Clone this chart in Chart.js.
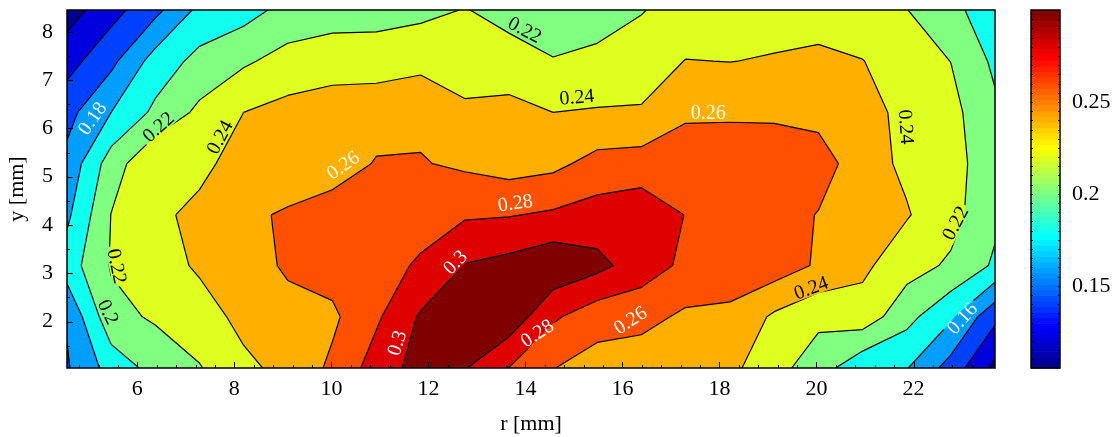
<!DOCTYPE html>
<html>
<head>
<meta charset="utf-8">
<script src="https://cdn.jsdelivr.net/npm/chart.js@4.4.1/dist/chart.umd.min.js"></script>
<style>
  html, body { margin:0; padding:0; background:#fff; }
</style>
</head>
<body>
<canvas id="map" width="1117" height="437"></canvas>
<script>
/* ── Data: measured field on a regular r–y grid ─────────────────── */
const rGrid = [4.55, 5.46, 6.37, 7.28, 8.19, 9.10, 10.02, 10.93, 11.84, 12.75, 13.66,
               14.57, 15.48, 16.39, 17.30, 18.22, 19.13, 20.04, 20.95, 21.86, 22.77, 23.68];
const yGrid = [1.04, 2.10, 3.16, 4.21, 5.27, 6.33, 7.39, 8.45];

// one row per yGrid value (bottom to top), one value per rGrid column
const row0 = [0.158, 0.188, 0.207, 0.2187, 0.236, 0.2453, 0.2639, 0.289, 0.308, 0.3012, 0.2795, 0.2605, 0.252, 0.248, 0.25, 0.245, 0.2265, 0.21, 0.1843, 0.181, 0.152, 0.114];
const row1 = [0.162, 0.214, 0.2225, 0.232, 0.245, 0.2539, 0.2563, 0.277, 0.3025, 0.31, 0.3131, 0.283, 0.268, 0.2665, 0.2565, 0.2567, 0.2366, 0.2245, 0.2319, 0.2064, 0.183, 0.145];
const row2 = [0.1898, 0.2215, 0.232, 0.2425, 0.252, 0.2625, 0.268, 0.274, 0.282, 0.301, 0.3067, 0.315, 0.3057, 0.29, 0.2759, 0.268, 0.2705, 0.2575, 0.244, 0.228, 0.217, 0.197];
const row3 = [0.176, 0.2204, 0.235, 0.2458, 0.2575, 0.2615, 0.2648, 0.268, 0.274, 0.2776, 0.2789, 0.2828, 0.2884, 0.2924, 0.2795, 0.27, 0.27, 0.259, 0.248, 0.2415, 0.227, 0.204];
const row4 = [0.1655, 0.2099, 0.2384, 0.234, 0.25, 0.252, 0.255, 0.2607, 0.2612, 0.2567, 0.2514, 0.255, 0.2668, 0.269, 0.2689, 0.268, 0.267, 0.27, 0.248, 0.2363, 0.228, 0.207];
const row5 = [0.1536, 0.18, 0.2043, 0.2244, 0.24, 0.2463, 0.2488, 0.2559, 0.2557, 0.245, 0.2474, 0.24, 0.2417, 0.2418, 0.2576, 0.2581, 0.2581, 0.2535, 0.248, 0.234, 0.226, 0.2038];
const row6 = [0.132, 0.155, 0.1885, 0.2061, 0.2171, 0.2273, 0.2322, 0.228, 0.2342, 0.2265, 0.2262, 0.2209, 0.2243, 0.2303, 0.2405, 0.2397, 0.2415, 0.2449, 0.2406, 0.228, 0.2198, 0.196];
const row7 = [0.111, 0.1326, 0.1546, 0.185, 0.192, 0.2065, 0.21, 0.214, 0.215, 0.2207, 0.2149, 0.21, 0.212, 0.2189, 0.2285, 0.23, 0.232, 0.23, 0.226, 0.2205, 0.204, 0.1915];
const zRows = [row0, row1, row2, row3, row4, row5, row6, row7];

const levels  = [0.12, 0.14, 0.16, 0.18, 0.20, 0.22, 0.24, 0.26, 0.28, 0.30];
const xTicks  = [6, 8, 10, 12, 14, 16, 18, 20, 22];
const yTicks  = [2, 3, 4, 5, 6, 7, 8];
const cbTicks = [0.15, 0.2, 0.25];

// inline contour labels: where they sit and how they lean
const contourLabels = [
  { r: 5.07,  y: 6.21, text: '0.18', rot: -55, white: true  },
  { r: 6.43,  y: 6.03, text: '0.22', rot: -42, white: false },
  { r: 7.70,  y: 5.82, text: '0.24', rot: -62, white: false },
  { r: 10.24, y: 5.24, text: '0.26', rot: -35, white: true  },
  { r: 13.99, y: 8.04, text: '0.22', rot: 28,  white: false },
  { r: 15.06, y: 6.65, text: '0.24', rot: -5,  white: false },
  { r: 17.77, y: 6.32, text: '0.26', rot: 0,   white: true  },
  { r: 21.85, y: 6.03, text: '0.24', rot: 86,  white: false },
  { r: 22.86, y: 4.04, text: '0.22', rot: -62, white: false },
  { r: 23.00, y: 2.07, text: '0.16', rot: -48, white: true  },
  { r: 19.89, y: 2.70, text: '0.24', rot: -20, white: false },
  { r: 16.16, y: 2.03, text: '0.26', rot: -33, white: true  },
  { r: 14.24, y: 1.76, text: '0.28', rot: -33, white: true  },
  { r: 12.55, y: 3.23, text: '0.3',  rot: -45, white: true  },
  { r: 13.79, y: 4.46, text: '0.28', rot: -8,  white: true  },
  { r: 11.35, y: 1.56, text: '0.3',  rot: -72, white: true  },
  { r: 5.58,  y: 3.15, text: '0.22', rot: 78,  white: false },
  { r: 5.40,  y: 2.20, text: '0.2',  rot: 65,  white: false }
];

/* ── Colours (jet, 64 steps) ─────────────────────────────────────── */
function jet(i) {            // i = 1..64
  const r = i <= 24 ? 0 : i <= 40 ? (i - 24) / 16 : i <= 56 ? 1 : 1 - (i - 56) / 16;
  const g = i <= 8 ? 0 : i <= 24 ? (i - 8) / 16 : i <= 40 ? 1 : i <= 56 ? 1 - (i - 40) / 16 : 0;
  const b = i <= 8 ? (i + 8) / 16 : i <= 24 ? 1 : i <= 40 ? 1 - (i - 24) / 16 : 0;
  return `rgb(${Math.round(r*255)},${Math.round(g*255)},${Math.round(b*255)})`;
}
const bandIdx = [1, 6, 12, 18, 25, 32, 38, 45, 51, 58, 64];
const bandColors = bandIdx.map(jet);

const SERIF = '"Liberation Serif", "Times New Roman", serif';
const font  = { family: SERIF, size: 22 };

/* ── Marching squares helpers ───────────────────────────────────── */
function corners(k, j) {
  return [
    { r: rGrid[k],   y: yGrid[j],   v: zRows[j][k] },
    { r: rGrid[k+1], y: yGrid[j],   v: zRows[j][k+1] },
    { r: rGrid[k+1], y: yGrid[j+1], v: zRows[j+1][k+1] },
    { r: rGrid[k],   y: yGrid[j+1], v: zRows[j+1][k] }
  ];
}
function cross(a, b, L) {
  const t = (L - a.v) / (b.v - a.v);
  return { r: a.r + t * (b.r - a.r), y: a.y + t * (b.y - a.y) };
}
function cellPoly(k, j, L) {
  const c = corners(k, j), out = [];
  for (let m = 0; m < 4; m++) {
    const a = c[m], b = c[(m + 1) % 4];
    if (a.v >= L) out.push(a);
    if ((a.v >= L) !== (b.v >= L)) out.push(cross(a, b, L));
  }
  return out;
}
function cellSegs(k, j, L) {
  const c = corners(k, j), pts = [];
  for (let m = 0; m < 4; m++) {
    const a = c[m], b = c[(m + 1) % 4];
    pts.push((a.v >= L) !== (b.v >= L) ? cross(a, b, L) : null);
  }
  const hit = pts.filter(p => p);
  if (hit.length === 2) return [hit];
  if (hit.length === 4) {
    const segs = [];
    for (let m = 0; m < 4; m++) if (c[m].v < L) segs.push([pts[(m + 3) % 4], pts[m]]);
    return segs;
  }
  return [];
}

function labelBox(ctx, lb, x, y) {
  ctx.font = `20px ${SERIF}`;
  const w = ctx.measureText(lb.text).width / 2 + 3, h = 8;
  const a = lb.rot * Math.PI / 180, ca = Math.cos(a), sa = Math.sin(a);
  return [[-w,-h],[w,-h],[w,h],[-w,h]].map(([u, v]) => [x + u*ca - v*sa, y + u*sa + v*ca]);
}

/* ── Plugins ────────────────────────────────────────────────────── */
const contourPlugin = {
  id: 'contour',
  beforeDatasetsDraw(chart) {
    const { ctx, chartArea: a, scales: { x, y } } = chart;
    const P = p => [x.getPixelForValue(p.r), y.getPixelForValue(p.y)];
    ctx.save();
    ctx.beginPath(); ctx.rect(a.left, a.top, a.width, a.height); ctx.clip();

    ctx.fillStyle = bandColors[0];
    ctx.fillRect(a.left, a.top, a.width, a.height);
    levels.forEach((L, i) => {
      ctx.beginPath();
      for (let j = 0; j < yGrid.length - 1; j++)
        for (let k = 0; k < rGrid.length - 1; k++) {
          const poly = cellPoly(k, j, L);
          if (poly.length < 3) continue;
          poly.forEach((p, n) => { const [px, py] = P(p); n ? ctx.lineTo(px, py) : ctx.moveTo(px, py); });
          ctx.closePath();
        }
      ctx.fillStyle = bandColors[i + 1];
      ctx.fill('nonzero');
    });

    // contour lines, broken where labels sit
    ctx.beginPath();
    ctx.rect(a.left, a.top, a.width, a.height);
    contourLabels.forEach(lb => {
      const box = labelBox(ctx, lb, x.getPixelForValue(lb.r), y.getPixelForValue(lb.y));
      box.forEach(([px, py], n) => n ? ctx.lineTo(px, py) : ctx.moveTo(px, py));
      ctx.closePath();
    });
    ctx.clip('evenodd');
    ctx.strokeStyle = '#000';
    ctx.lineWidth = 1.2;
    ctx.lineJoin = 'round';
    levels.forEach(L => {
      ctx.beginPath();
      for (let j = 0; j < yGrid.length - 1; j++)
        for (let k = 0; k < rGrid.length - 1; k++)
          cellSegs(k, j, L).forEach(([p, q]) => {
            const [x1, y1] = P(p), [x2, y2] = P(q);
            ctx.moveTo(x1, y1); ctx.lineTo(x2, y2);
          });
      ctx.stroke();
    });
    ctx.restore();

    // label text
    ctx.save();
    ctx.font = `20px ${SERIF}`;
    ctx.textAlign = 'center';
    ctx.textBaseline = 'middle';
    contourLabels.forEach(lb => {
      ctx.save();
      ctx.translate(x.getPixelForValue(lb.r), y.getPixelForValue(lb.y));
      ctx.rotate(lb.rot * Math.PI / 180);
      ctx.fillStyle = lb.white ? '#fff' : '#000';
      ctx.fillText(lb.text, 0, 1);
      ctx.restore();
    });
    ctx.restore();
  },

  afterDraw(chart) {
    const { ctx, chartArea: a, scales: { x, y, c } } = chart;
    ctx.save();
    ctx.strokeStyle = '#000';

    // inward ticks, major + minor
    ctx.lineWidth = 1;
    ctx.beginPath();
    for (let v = 4.8; v < 23.7; v += 0.4) {
      const px = Math.round(x.getPixelForValue(v)) + 0.5;
      const major = Math.abs(v / 2 - Math.round(v / 2)) < 0.01;
      ctx.moveTo(px, a.bottom); ctx.lineTo(px, a.bottom - (major ? 6 : 3));
    }
    for (let v = 1.5; v < 8.45; v += 0.5) {
      const py = Math.round(y.getPixelForValue(v)) + 0.5;
      const major = Math.abs(v - Math.round(v)) < 0.01;
      ctx.moveTo(a.left, py); ctx.lineTo(a.left + (major ? 6 : 3), py);
    }
    ctx.stroke();

    ctx.lineWidth = 1.5;
    ctx.strokeRect(a.left, a.top, a.width, a.height);

    // colour bar
    const L = c.left + 36, W = 29;
    const top = c.getPixelForValue(c.max), bot = c.getPixelForValue(c.min);
    const step = (bot - top) / 64;
    for (let i = 1; i <= 64; i++) {
      ctx.fillStyle = jet(i);
      ctx.fillRect(L, bot - i * step, W, step + 0.6);
    }
    ctx.lineWidth = 1;
    ctx.beginPath();
    for (let v = 0.11; v < c.max; v += 0.005) {
      const py = Math.round(c.getPixelForValue(v)) + 0.5;
      ctx.moveTo(L, py); ctx.lineTo(L + 2, py);
      ctx.moveTo(L + W, py); ctx.lineTo(L + W - 2, py);
    }
    ctx.stroke();
    ctx.lineWidth = 1.5;
    ctx.strokeRect(L, top, W, bot - top);
    ctx.restore();
  }
};

/* ── Chart ──────────────────────────────────────────────────────── */
function fixBox(w, h) {
  return s => {
    if (w) s.width = w;
    if (h) s.height = h;
    s.paddingTop = s.paddingBottom = s.paddingLeft = s.paddingRight = 0;
  };
}
const axisCommon = {
  type: 'linear',
  grid: { display: false, drawTicks: false },
  border: { display: false }
};

new Chart(document.getElementById('map'), {
  type: 'scatter',
  data: { datasets: [{ data: [], pointRadius: 0 }] },
  options: {
    responsive: false,
    animation: false,
    devicePixelRatio: 1,
    layout: { autoPadding: false, padding: { top: 10, left: 0, right: 0, bottom: 0 } },
    plugins: { legend: { display: false }, tooltip: { enabled: false } },
    scales: {
      x: {
        ...axisCommon,
        min: 4.55, max: 23.68,
        afterBuildTicks: s => { s.ticks = xTicks.map(v => ({ value: v })); },
        afterFit: fixBox(0, 69),
        ticks: { font, color: '#000', padding: 8, maxRotation: 0, autoSkip: false },
        title: { display: true, text: 'r [mm]', font, color: '#000', padding: { top: 0, bottom: 0 } }
      },
      y: {
        ...axisCommon,
        min: 1.04, max: 8.45,
        afterBuildTicks: s => { s.ticks = yTicks.map(v => ({ value: v })); },
        afterFit: fixBox(67, 0),
        ticks: { font, color: '#000', padding: 14, autoSkip: false },
        title: { display: true, text: 'y [mm]', font, color: '#000', padding: { top: 4, bottom: 0 } }
      },
      c: {
        ...axisCommon,
        position: 'right',
        min: 0.1053, max: 0.30,
        afterBuildTicks: s => { s.ticks = cbTicks.map(v => ({ value: v })); },
        afterFit: fixBox(122, 0),
        ticks: { font, color: '#000', padding: 77, autoSkip: false, callback: v => String(v) }
      }
    }
  },
  plugins: [contourPlugin]
});
</script>
</body>
</html>
